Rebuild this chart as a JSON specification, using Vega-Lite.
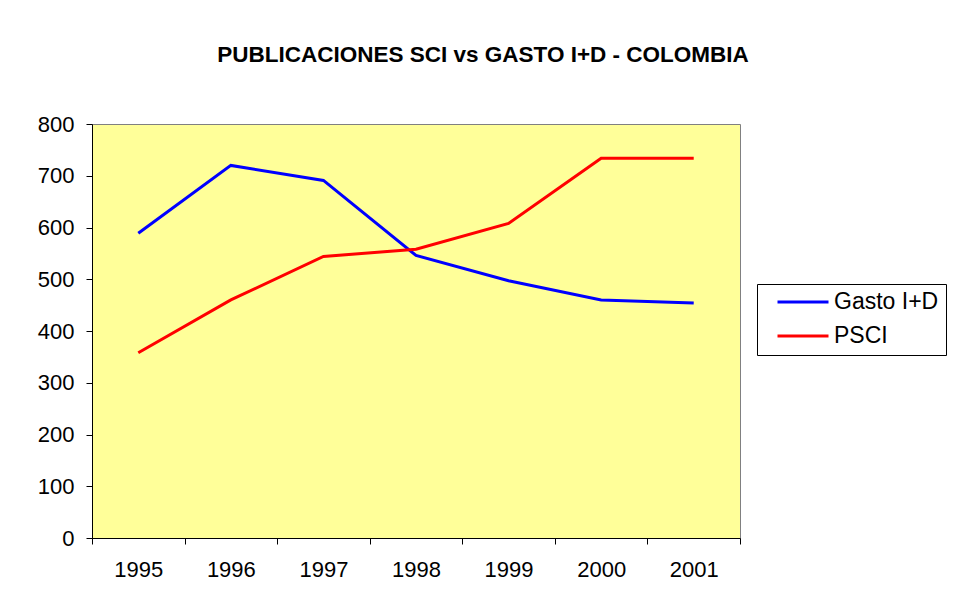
{
  "$schema": "https://vega.github.io/schema/vega-lite/v6.json",
  "width": 648,
  "height": 414,
  "autosize": {"type": "none"},
  "padding": {"left": 92, "top": 124, "right": 218, "bottom": 78},
  "background": "white",
  "config": {
    "view": {"fill": "#FFFF99", "stroke": "#808080", "strokeWidth": 1},
    "font": "Liberation Sans",
    "axis": {"labelFont": "Liberation Sans", "labelColor": "black", "domainColor": "black", "tickColor": "black", "grid": false}
  },
  "title": {
    "text": "PUBLICACIONES SCI vs GASTO I+D - COLOMBIA",
    "font": "Liberation Sans",
    "fontSize": 22.5,
    "fontWeight": "bold",
    "color": "black",
    "anchor": "middle",
    "frame": "group",
    "dx": 67,
    "offset": 47
  },
  "data": {
    "values": [
      {"year": 1995, "serie": "Gasto I+D", "value": 589},
      {"year": 1996, "serie": "Gasto I+D", "value": 720},
      {"year": 1997, "serie": "Gasto I+D", "value": 691},
      {"year": 1998, "serie": "Gasto I+D", "value": 546},
      {"year": 1999, "serie": "Gasto I+D", "value": 497},
      {"year": 2000, "serie": "Gasto I+D", "value": 460},
      {"year": 2001, "serie": "Gasto I+D", "value": 454},
      {"year": 1995, "serie": "PSCI", "value": 358},
      {"year": 1996, "serie": "PSCI", "value": 460},
      {"year": 1997, "serie": "PSCI", "value": 544},
      {"year": 1998, "serie": "PSCI", "value": 558},
      {"year": 1999, "serie": "PSCI", "value": 608},
      {"year": 2000, "serie": "PSCI", "value": 734},
      {"year": 2001, "serie": "PSCI", "value": 734}
    ]
  },
  "layer": [
    {
      "mark": {"type": "line", "strokeWidth": 3},
      "encoding": {
        "x": {
          "field": "year", "type": "quantitative",
          "scale": {"domain": [1994.5, 2001.5], "nice": false, "zero": false},
          "axis": {"orient": "bottom", "values": [1995, 1996, 1997, 1998, 1999, 2000, 2001], "format": "d", "ticks": false, "domain": false, "labelFontSize": 22, "labelPadding": 21, "title": null}
        },
        "y": {
          "field": "value", "type": "quantitative",
          "scale": {"domain": [0, 800], "nice": false},
          "axis": {"values": [0, 100, 200, 300, 400, 500, 600, 700, 800], "tickSize": 6, "labelPadding": 12, "labelFontSize": 22, "title": null}
        },
        "color": {
          "field": "serie", "type": "nominal",
          "scale": {"domain": ["Gasto I+D", "PSCI"], "range": ["#0000FF", "#FF0000"]},
          "legend": {
            "title": null, "orient": "none", "legendX": 665, "legendY": 160,
            "symbolType": "stroke", "symbolSize": 2601, "symbolStrokeWidth": 3,
            "symbolOffset": 12, "labelOffset": 4, "labelFontSize": 23, "labelFont": "Liberation Sans", "labelColor": "black",
            "padding": 7, "strokeColor": "black", "fillColor": "white", "clipHeight": 22, "rowPadding": 11
          }
        }
      }
    },
    {
      "mark": {"type": "point", "opacity": 0},
      "encoding": {
        "x": {
          "field": "year", "type": "quantitative",
          "axis": {"orient": "bottom", "values": [1994.5, 1995.5, 1996.5, 1997.5, 1998.5, 1999.5, 2000.5, 2001.5], "labels": false, "tickSize": 6, "domain": true, "title": null}
        },
        "y": {"field": "value", "type": "quantitative"}
      }
    }
  ],
  "resolve": {"axis": {"x": "independent"}}
}
